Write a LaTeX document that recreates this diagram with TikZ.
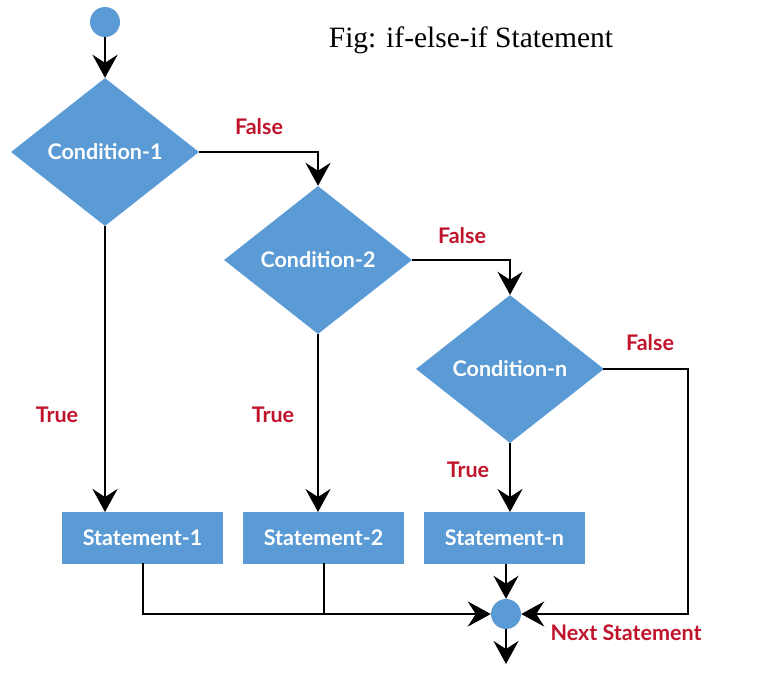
\documentclass[tikz,border=0pt]{standalone}
\usepackage{fontspec}
\setmainfont{Lato}
\newfontfamily\titlefont{Liberation Serif}
\usetikzlibrary{shapes.geometric,arrows.meta}
\definecolor{fblue}{HTML}{5B9BD5}
\definecolor{fred}{HTML}{C0142C}
\begin{document}
\begin{tikzpicture}[x=1pt,y=-1pt,
  cond/.style={diamond,fill=fblue,inner sep=0pt,minimum width=188pt,minimum height=148pt,text=white,font=\bfseries\fontsize{21.5}{24}\selectfont},
  stmt/.style={rectangle,fill=fblue,inner sep=0pt,minimum width=161pt,minimum height=52pt,text=white,font=\bfseries\fontsize{21.5}{24}\selectfont},
  dot/.style={circle,fill=fblue,inner sep=0pt,minimum size=30pt},
  lbl/.style={text=fred,font=\bfseries\fontsize{21.5}{24}\selectfont},
  conn/.style={line width=2.8pt,line cap=rect},
  arr/.style={line width=2.8pt,-{Stealth[length=23pt,width=25pt,inset=8pt]}}]
\useasboundingbox (0,0) rectangle (783,673);
% nodes
\node[dot] (start) at (105,22) {};
\node[cond] (c1) at (105,152) {Condition-1};
\node[cond] (c2) at (318,260) {Condition-2};
\node[cond] (c3) at (510,369) {Condition-n};
\node[stmt] (s1) at (142.5,538) {Statement-1};
\node[stmt] (s2) at (323.5,538) {Statement-2};
\node[stmt] (sn) at (504.5,538) {Statement-n};
\node[dot] (next) at (506,614) {};
\node[font=\titlefont\fontsize{29.5}{32}\selectfont] (title) at (471,40) {Fig: if-else-if Statement};
% coordinates
\coordinate (t1) at (105,512);
\coordinate (t2) at (318,512);
\coordinate (tn) at (510,512);
\coordinate (j1) at (143,614);
\coordinate (j2) at (324,614);
\coordinate (f3) at (688,369);
\coordinate (f3b) at (688,614);
\coordinate (endp) at (506,664);
% connectors
\draw[arr] (start) -- (c1.north);
\draw[arr] (c1.east) -| (c2.north);
\draw[arr] (c2.east) -| (c3.north);
\draw[arr] (c1.south) -- (t1);
\draw[arr] (c2.south) -- (t2);
\draw[arr] (c3.south) -- (tn);
\draw[conn] (s1.south -| j1) -- (j1);
\draw[conn] (s2.south -| j2) -- (j2);
\draw[arr] (j1) -- (next.west);
\draw[conn] (c3.east) -- (f3) -- (f3b);
\draw[arr] (f3b) -- (next.east);
\draw[arr] (sn.south -| next) -- (next.north);
\draw[arr] (next.south) -- (endp);
% labels
\node[lbl] (lf1) at (259,127) {False};
\node[lbl] (lf2) at (462,236) {False};
\node[lbl] (lf3) at (650,343) {False};
\node[lbl] (lt1) at (57,415) {True};
\node[lbl] (lt2) at (273,415) {True};
\node[lbl] (lt3) at (468,470) {True};
\node[lbl] (lns) at (626,633) {Next Statement};
\end{tikzpicture}
\end{document}
